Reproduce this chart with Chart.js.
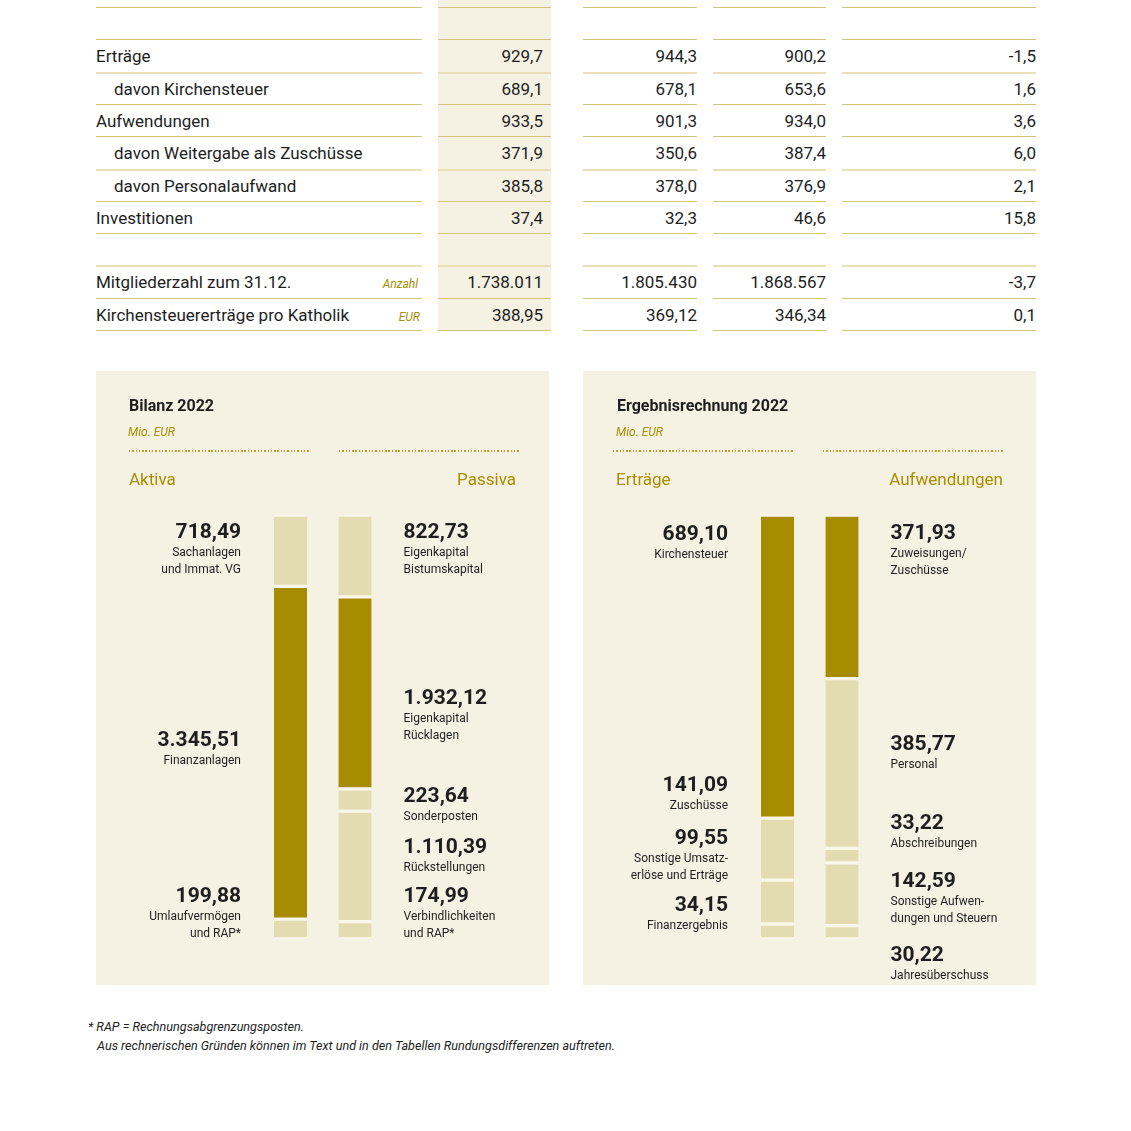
<!DOCTYPE html>
<html lang="de">
<head>
<meta charset="utf-8">
<script src="https://cdn.jsdelivr.net/npm/chart.js@4.4.1/dist/chart.umd.min.js"></script>
<style>
  body { margin: 0; background: #fff; font-family: Roboto, "Liberation Sans", sans-serif; color: #1e1e1e; }
  #page { position: relative; width: 1131px; height: 1131px; overflow: hidden; }
  .cell { position: absolute; font-size: 17px; white-space: nowrap; }
  .unit { position: absolute; font-size: 12px; font-style: italic; color: #a88f00; white-space: nowrap; }
  .line { position: absolute; height: 1px; background: #d3c47c; }
  .line.soft { height: 2px; background: #e9e0b8; }
  .panel { position: absolute; top: 371px; width: 453px; height: 614px; background: #f5f1e3; }
  .panel canvas { position: absolute; left: 0; top: 0; }
  .ptitle { position: absolute; font-size: 16px; font-weight: bold; white-space: nowrap; }
  .psub { position: absolute; font-size: 12px; font-style: italic; color: #a88f00; }
  .dots { position: absolute; height: 2px; background: repeating-linear-gradient(to right, #b9a22c 0 1.4px, transparent 1.4px 3.3px); }
  .side { position: absolute; font-size: 17px; color: #a88f00; white-space: nowrap; }
  .foot { position: absolute; font-size: 12.6px; font-style: italic; white-space: nowrap; }
</style>
</head>
<body>
<div id="page">
  <div id="table"></div>

  <div class="panel" style="left:96px">
    <canvas id="bilanz" width="453" height="614"></canvas>
    <div class="ptitle" style="left:33px; top:25px">Bilanz 2022</div>
    <div class="psub" style="left:32px; top:54px">Mio. EUR</div>
    <div class="dots" style="left:33px; top:79px; width:180px"></div>
    <div class="dots" style="left:243px; top:79px; width:180px"></div>
    <div class="side" style="left:33px; top:98px">Aktiva</div>
    <div class="side" style="right:33px; top:98px">Passiva</div>
  </div>

  <div class="panel" style="left:583px">
    <canvas id="ergebnis" width="453" height="614"></canvas>
    <div class="ptitle" style="left:34px; top:25px">Ergebnisrechnung 2022</div>
    <div class="psub" style="left:33px; top:54px">Mio. EUR</div>
    <div class="dots" style="left:30px; top:79px; width:181px"></div>
    <div class="dots" style="left:240px; top:79px; width:181px"></div>
    <div class="side" style="left:33px; top:98px">Erträge</div>
    <div class="side" style="right:33px; top:98px">Aufwendungen</div>
  </div>

  <div class="foot" style="left:88px; top:1019px">* RAP = Rechnungsabgrenzungsposten.</div>
  <div class="foot" style="left:97px; top:1038px">Aus rechnerischen Gründen können im Text und in den Tabellen Rundungsdifferenzen auftreten.</div>
</div>

<script>
// Tabelle oben
const rowLabels = ["", "Erträge", "davon Kirchensteuer", "Aufwendungen", "davon Weitergabe als Zuschüsse",
  "davon Personalaufwand", "Investitionen", "", "Mitgliederzahl zum 31.12.", "Kirchensteuererträge pro Katholik"];
const rowUnits = ["", "", "", "", "", "", "", "", "Anzahl", "EUR"];
const col2022 = ["", "929,7", "689,1", "933,5", "371,9", "385,8", "37,4", "", "1.738.011", "388,95"];
const col2021 = ["", "944,3", "678,1", "901,3", "350,6", "378,0", "32,3", "", "1.805.430", "369,12"];
const col2020 = ["", "900,2", "653,6", "934,0", "387,4", "376,9", "46,6", "", "1.868.567", "346,34"];
const colChange = ["", "-1,5", "1,6", "3,6", "6,0", "2,1", "15,8", "", "-3,7", "0,1"];

// Bilanz 2022 (Mio. EUR), von oben nach unten
const aktivaValues = [718.49, 3345.51, 199.88];
const aktivaTexts = [["Sachanlagen", "und Immat. VG"], ["Finanzanlagen"], ["Umlaufvermögen", "und RAP*"]];
const aktivaDark = [false, true, false];
const passivaValues = [822.73, 1932.12, 223.64, 1110.39, 174.99];
const passivaTexts = [["Eigenkapital", "Bistumskapital"], ["Eigenkapital", "Rücklagen"], ["Sonderposten"],
  ["Rückstellungen"], ["Verbindlichkeiten", "und RAP*"]];
const passivaDark = [false, true, false, false, false];

// Ergebnisrechnung 2022 (Mio. EUR)
const ertraegeValues = [689.10, 141.09, 99.55, 34.15];
const ertraegeTexts = [["Kirchensteuer"], ["Zuschüsse"], ["Sonstige Umsatz-", "erlöse und Erträge"], ["Finanzergebnis"]];
const ertraegeDark = [true, false, false, false];
const aufwValues = [371.93, 385.77, 33.22, 142.59, 30.22];
const aufwTexts = [["Zuweisungen/", "Zuschüsse"], ["Personal"], ["Abschreibungen"],
  ["Sonstige Aufwen-", "dungen und Steuern"], ["Jahresüberschuss"]];
const aufwDark = [true, false, false, false, false];

// wo die Beschriftung neben dem Segment sitzt
const aktivaPlace = [["top", 0], ["center", -5], ["bottom", 0]];
const passivaPlace = [["top", 0], ["center", 21], ["top", -10], ["center", -12], ["bottom", 0]];
const ertraegePlace = [["top", 2], ["top", -50], ["top", -59], ["bottom", -8]];
const aufwPlace = [["top", 1], ["center", -12], ["top", -42], ["top", 1], ["top", 12]];

const GOLD = "#a78b00";
const LIGHT = "#e3dcb1";
const PANEL = "#f5f1e3";

// --- Tabelle bauen
const table = document.getElementById("table");
const cols = [
  { x: 96, w: 326 }, { x: 438, w: 113 }, { x: 583, w: 114 }, { x: 713, w: 113 }, { x: 842, w: 194 }
];
const rowTop = i => 7 + i * 32.3;

function add(cls, style, text) {
  let d = document.createElement("div");
  d.className = cls;
  d.style.cssText = style;
  d.textContent = text;
  table.appendChild(d);
}

add("", `position:absolute;left:438px;top:0;width:113px;height:330px;background:${PANEL}`, "");
for (let i = 0; i <= rowLabels.length; i++) {
  let soft = i === 2 || i === 5 || i === 8;
  cols.forEach(c => add("line" + (soft ? " soft" : ""), `left:${c.x}px;top:${Math.round(rowTop(i))}px;width:${c.w}px`, ""));
}
rowLabels.forEach((lab, i) => {
  let top = rowTop(i) + 1;
  let st = `top:${top}px;height:32px;line-height:33px;`;
  if (lab) {
    let indent = lab.startsWith("davon") ? 18 : 0;
    add("cell", st + `left:${96 + indent}px`, lab);
  }
  if (rowUnits[i]) add("unit", st + `right:${1131 - (rowUnits[i] === "EUR" ? 420 : 418)}px;line-height:36px`, rowUnits[i]);
  add("cell", st + `right:${1131 - 543}px`, col2022[i]);
  add("cell", st + `right:${1131 - 697}px`, col2021[i]);
  add("cell", st + `right:${1131 - 826}px`, col2020[i]);
  add("cell", st + `right:${1131 - 1036}px`, colChange[i]);
});

// --- Zahlen im deutschen Format
function fmt(v) {
  let [int, dec] = v.toFixed(2).split(".");
  return int.replace(/\B(?=(\d{3})+(?!\d))/g, ".") + "," + dec;
}

// Beschriftungen neben den Segmenten
const segmentLabels = {
  id: "segmentLabels",
  afterDatasetsDraw(chart, args, opts) {
    let ctx = chart.ctx;
    ctx.save();
    ctx.fillStyle = "#1e1e1e";
    opts.bars.forEach((bar, i) => {
      bar.values.forEach((v, k) => {
        let el = chart.getDatasetMeta(k).data[i];
        let top = Math.min(el.y, el.base) + 2;
        let bottom = Math.max(el.y, el.base) - 2;
        let n = bar.texts[k].length;
        let [anchor, dy] = bar.place[k];
        let b;
        if (anchor === "top") b = top + 21 + dy;
        else if (anchor === "bottom") b = bottom - 18 - 17 * (n - 1) + dy;
        else b = (top + bottom) / 2 - 1.5 - 8.5 * (n - 1) + dy;
        let x = i === 0 ? el.x - el.width / 2 - 33 : el.x + el.width / 2 + 32;
        ctx.textAlign = i === 0 ? "right" : "left";
        ctx.textBaseline = "alphabetic";
        ctx.font = "bold 21px Roboto";
        ctx.fillText(fmt(v), x, b);
        ctx.font = "12px Roboto";
        bar.texts[k].forEach((t, j) => ctx.fillText(t, x, b + 18 + 17 * j));
      });
    });
    ctx.restore();
  }
};

function makeChart(id, bars) {
  let n = Math.max(bars[0].values.length, bars[1].values.length);
  let datasets = [];
  for (let k = 0; k < n; k++) {
    datasets.push({
      data: bars.map(b => (b.values[k] === undefined ? null : b.values[k])),
      backgroundColor: bars.map(b => (b.dark[k] ? GOLD : LIGHT)),
      borderColor: "#faf7ec",
      borderWidth: { top: 2, bottom: 2, left: 0, right: 0 },
      borderSkipped: false,
      barThickness: 33,
    });
  }
  let total = Math.max(...bars.map(b => b.values.reduce((a, c) => a + c, 0)));
  return new Chart(document.getElementById(id), {
    type: "bar",
    data: { labels: ["links", "rechts"], datasets: datasets },
    options: {
      responsive: false,
      animation: false,
      layout: { padding: { left: 162.25, right: 161.75, top: 144, bottom: 46 } },
      scales: {
        x: { display: false, stacked: true },
        y: { display: false, stacked: true, reverse: true, min: 0, max: total },
      },
      plugins: {
        legend: { display: false },
        tooltip: { enabled: false },
        segmentLabels: { bars: bars },
      },
    },
    plugins: [segmentLabels],
  });
}

makeChart("bilanz", [
  { values: aktivaValues, texts: aktivaTexts, dark: aktivaDark, place: aktivaPlace },
  { values: passivaValues, texts: passivaTexts, dark: passivaDark, place: passivaPlace },
]);
makeChart("ergebnis", [
  { values: ertraegeValues, texts: ertraegeTexts, dark: ertraegeDark, place: ertraegePlace },
  { values: aufwValues, texts: aufwTexts, dark: aufwDark, place: aufwPlace },
]);
</script>
</body>
</html>
